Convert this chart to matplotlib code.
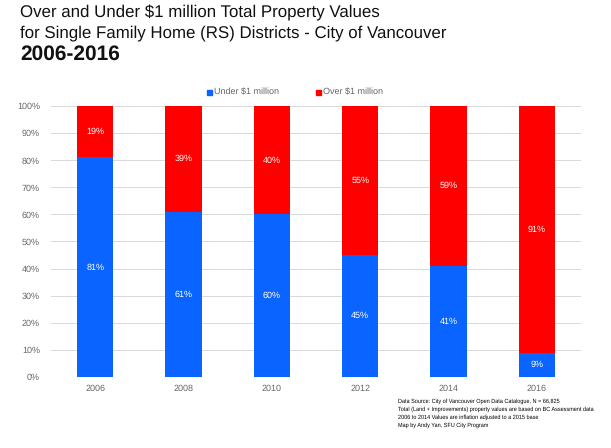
import matplotlib
matplotlib.use("Agg")
import matplotlib.pyplot as plt
import numpy as np

plt.rcParams['font.family'] = ['Liberation Sans', 'DejaVu Sans']
plt.rcParams['text.hinting'] = 'no_hinting'

# Datos
years = ["2006", "2008", "2010", "2012", "2014", "2016"]
under_1m = [81, 61, 60, 45, 41, 9]
over_1m = [19, 39, 40, 55, 59, 91]

BLUE = "#0a64ff"
RED = "#ff0000"
GRAY = "#666666"

fig = plt.figure(figsize=(6.11, 4.48), dpi=100)
ax = fig.add_axes([0.0835, 0.1585, 0.8675, 0.605])

x = np.arange(len(years))
w = 0.41
ax.bar(x, under_1m, width=w, color=BLUE, zorder=3)
ax.bar(x, over_1m, width=w, bottom=under_1m, color=RED, zorder=3)

# Etiquetas dentro de las barras
for i in range(len(years)):
    ax.text(x[i], under_1m[i] / 2, f"{under_1m[i]}%", ha="center", va="center",
            color="white", fontsize=6.5, zorder=4)
    ax.text(x[i], under_1m[i] + over_1m[i] / 2, f"{over_1m[i]}%", ha="center",
            va="center", color="white", fontsize=6.5, zorder=4)

ax.set_xlim(-0.5, len(years) - 0.5)
ax.set_ylim(0, 100)
ax.set_yticks(range(0, 101, 10))
ax.set_yticklabels([f"{v}%" for v in range(0, 101, 10)])
ax.set_xticks(x)
ax.set_xticklabels(years)
ax.tick_params(axis="both", length=0, labelsize=6.5, labelcolor=GRAY)
ax.tick_params(axis="y", pad=8)
ax.tick_params(axis="x", pad=5)
ax.grid(axis="y", color="#d9d9d9", linewidth=0.7, zorder=0)
for s in ax.spines.values():
    s.set_visible(False)

# Leyenda
fig.patches.append(plt.Rectangle((207 / 611, 1 - 95 / 448), 5 / 611, 5 / 448,
                                 transform=fig.transFigure, color=BLUE))
fig.text(214 / 611, 1 - 92 / 448, "Under $1 million", fontsize=6.5, color=GRAY, va="center")
fig.patches.append(plt.Rectangle((316 / 611, 1 - 95 / 448), 5 / 611, 5 / 448,
                                 transform=fig.transFigure, color=RED))
fig.text(323 / 611, 1 - 92 / 448, "Over $1 million", fontsize=6.5, color=GRAY, va="center")

# Títulos
fig.text(20 / 611, 1 - 13 / 448, "Over and Under $1 million Total Property Values",
         fontsize=12.2, va="center", color="#111111")
fig.text(20 / 611, 1 - 33 / 448, "for Single Family Home (RS) Districts - City of Vancouver",
         fontsize=12.2, va="center", color="#111111")
fig.text(20 / 611, 1 - 54 / 448, "2006-2016", fontsize=15, fontweight="bold",
         va="center", color="#111111")

# Fuente
notes = ("Data Source: City of Vancouver Open Data Catalogue, N = 66,825\n"
         "Total (Land + Improvements) property values are based on BC Assessment data\n"
         "2006 to 2014 Values are inflation adjusted to a 2015 base\n"
         "Map by Andy Yan, SFU City Program")
fig.text(398 / 611, 1 - 398 / 448, notes, fontsize=4.0, va="top", linespacing=1.55)

fig.savefig("out.png", dpi=100)
